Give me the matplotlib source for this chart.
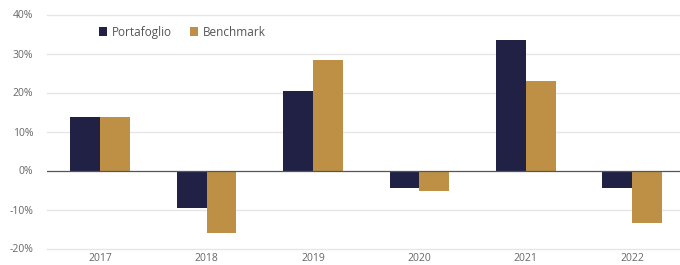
import numpy as np
import matplotlib.pyplot as plt
from matplotlib.ticker import FuncFormatter

plt.rcParams['font.family'] = ['Open Sans', 'DejaVu Sans']

anni = ['2017', '2018', '2019', '2020', '2021', '2022']
portafoglio = [13.6, -9.7, 20.3, -4.6, 33.5, -4.6]
benchmark = [13.6, -16.1, 28.3, -5.3, 22.9, -13.4]

col_port = '#212145'
col_bench = '#be9045'
col_testo = '#666666'

fig = plt.figure(figsize=(6.8, 2.65), dpi=100)
ax = fig.add_axes([47 / 680, 16.5 / 265, 633 / 680, 234 / 265])

x = np.arange(len(anni))
w = 0.28
ax.bar(x - w / 2, portafoglio, w, color=col_port, label='Portafoglio', zorder=3)
ax.bar(x + w / 2, benchmark, w, color=col_bench, label='Benchmark', zorder=3)

ax.set_xlim(-0.5, 5.45)
ax.set_ylim(-20, 40)
ax.set_yticks(range(-20, 41, 10))
ax.yaxis.set_major_formatter(FuncFormatter(lambda v, p: f'{v:.0f}%'))
ax.set_xticks(x)
ax.set_xticklabels(anni)

# griglia orizzontale
for v in range(-20, 41, 10):
    if v != 0:
        ax.axhline(v, color='#e6e6e6', lw=1, zorder=1, clip_on=False)
ax.axhline(0, color='#555555', lw=0.9, zorder=4)

for s in ax.spines.values():
    s.set_visible(False)
ax.tick_params(length=0, labelsize=7.5, colors=col_testo)
ax.tick_params(axis='y', pad=10)
ax.tick_params(axis='x', pad=3)

leg = ax.legend(loc='center left', bbox_to_anchor=(0.075, 0.925), ncol=2, frameon=False,
                fontsize=8.5, handlelength=0.7, handleheight=0.7, handletextpad=0.4,
                columnspacing=1.5, borderaxespad=0)
for t in leg.get_texts():
    t.set_color('#555555')

fig.savefig('out.png', dpi=100)
